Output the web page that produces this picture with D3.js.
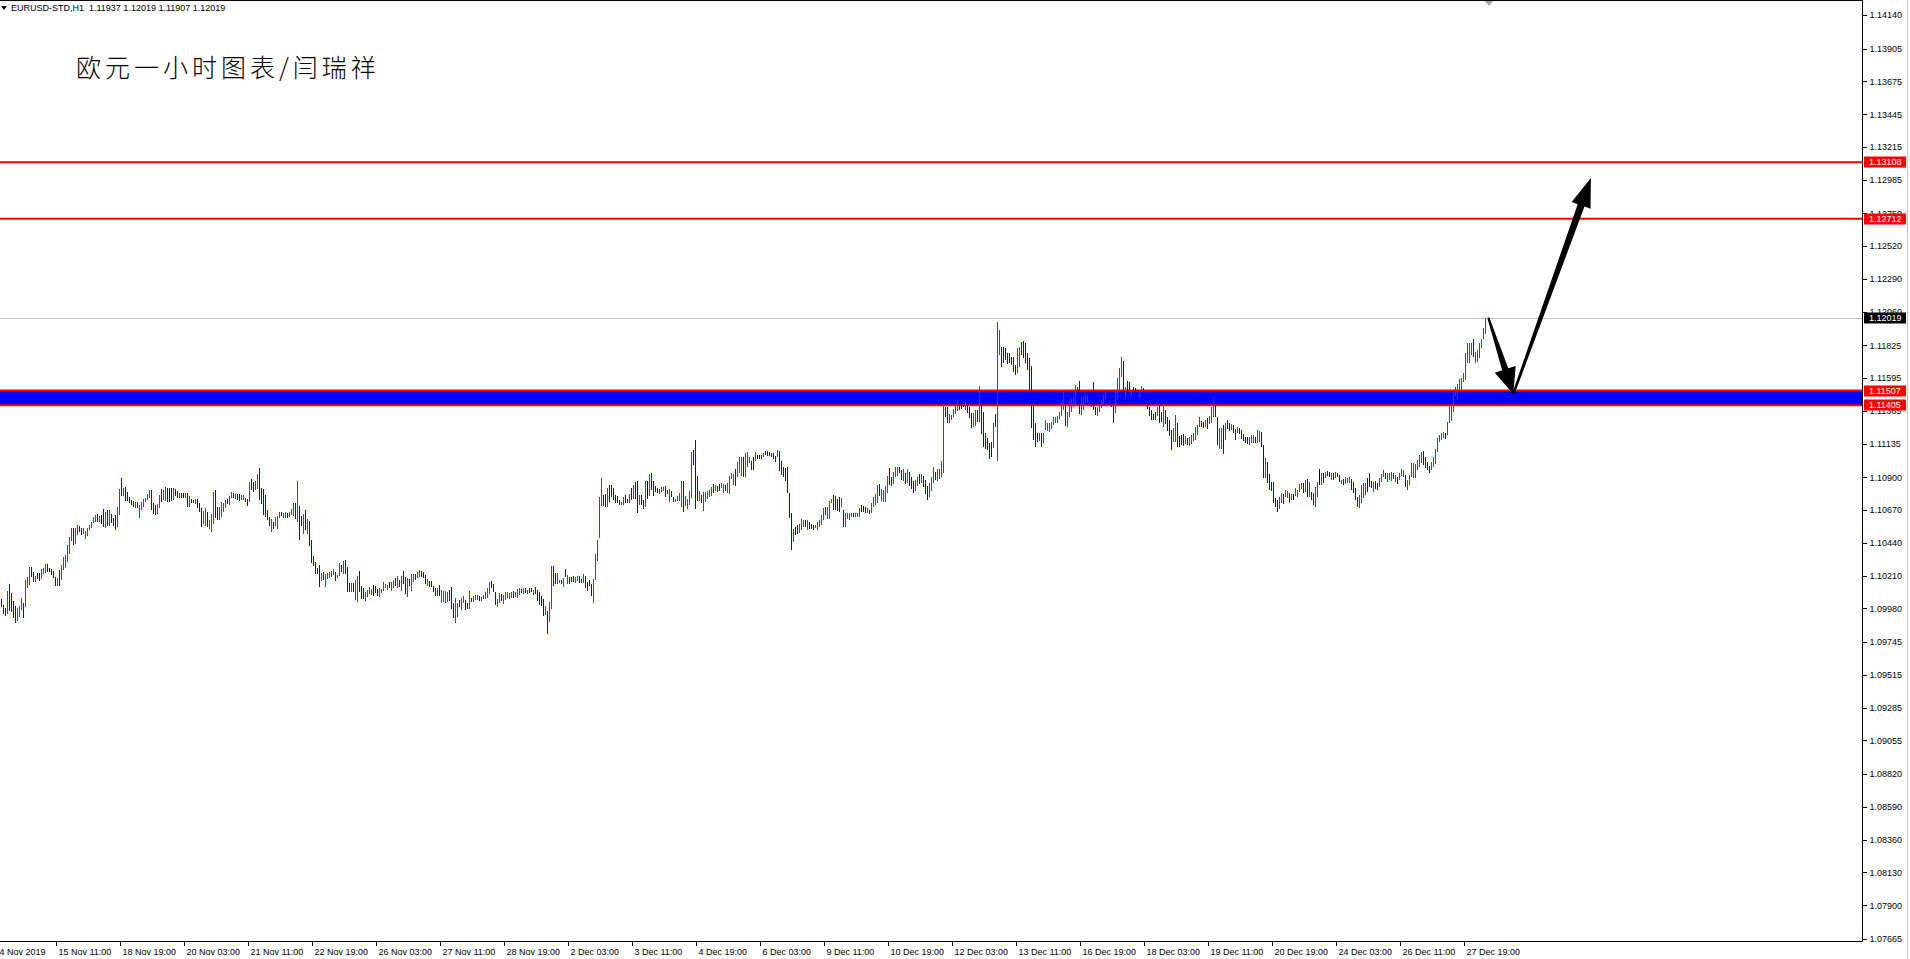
<!DOCTYPE html>
<html><head><meta charset="utf-8">
<script src="https://cdn.jsdelivr.net/npm/d3@7"></script>
<style>html,body{margin:0;padding:0;background:#fff;overflow:hidden}</style>
</head><body>
<svg id="c" width="1910" height="959" xmlns="http://www.w3.org/2000/svg"></svg>
<script>
// ---------------- DATA ----------------
const symbolHeader = "EURUSD-STD,H1  1.11937 1.12019 1.11907 1.12019";
const chartTitle = "欧元一小时图表/闫瑞祥";

// Hourly bar highs / lows in points (1 point = 0.00001)
const highPts = [
110046,110004,109981,110103,110152,110088,110032,109997,109983,110000,
110051,110018,110180,110201,110271,110271,110238,110210,110226,110226,
110257,110266,110292,110292,110264,110259,110245,110203,110191,110250,
110285,110343,110355,110425,110483,110547,110542,110547,110565,110556,
110547,110542,110523,110547,110565,110589,110621,110635,110640,110631,
110635,110677,110659,110673,110668,110640,110617,110635,110691,110818,
110895,110822,110832,110794,110764,110740,110731,110726,110729,110705,
110726,110750,110757,110785,110808,110813,110717,110705,110710,110776,
110818,110813,110834,110827,110827,110822,110827,110818,110804,110790,
110792,110790,110790,110792,110771,110748,110743,110748,110745,110719,
110684,110666,110687,110654,110603,110645,110799,110811,110694,110694,
110729,110717,110738,110750,110769,110799,110790,110785,110785,110780,
110776,110776,110752,110748,110864,110888,110869,110876,110923,110967,
110822,110818,110776,110670,110624,110607,110589,110624,110631,110659,
110654,110647,110654,110647,110654,110677,110719,110719,110874,110698,
110628,110642,110670,110605,110593,110460,110348,110308,110261,110285,
110226,110233,110219,110226,110238,110243,110257,110238,110215,110296,
110285,110313,110320,110271,110156,110161,110156,110180,110210,110243,
110138,110121,110098,110110,110133,110117,110145,110140,110117,110121,
110119,110168,110149,110145,110168,110168,110182,110191,110210,110180,
110208,110245,110198,110191,110187,110219,110224,110222,110238,110250,
110243,110233,110215,110187,110173,110173,110140,110121,110121,110145,
110110,110103,110103,110098,110110,110133,110016,110051,110021,110037,
110051,110070,110037,110016,110103,110056,110070,110074,110074,110070,
110061,110074,110098,110121,110168,110175,110152,110098,110046,110086,
110084,110074,110098,110093,110086,110093,110103,110098,110117,110121,
110117,110121,110121,110110,110121,110126,110112,110131,110112,110098,
110067,110046,110000,109962,110028,110278,110278,110226,110231,110180,
110182,110191,110257,110215,110203,110203,110208,110201,110210,110210,
110187,110222,110210,110163,110180,110152,110187,110362,110460,110764,
110894,110775,110782,110824,110845,110845,110822,110775,110768,110740,
110728,110763,110775,110749,110782,110822,110843,110866,110871,110775,
110775,110740,110871,110871,110922,110932,110876,110838,110822,110820,
110829,110834,110838,110810,110815,110806,110763,110749,110768,110792,
110873,110871,110768,110745,110803,111077,111091,111161,110908,110806,
110775,110799,110799,110803,110810,110834,110852,110845,110838,110852,
110857,110850,110845,110857,110908,110932,110922,110955,111009,111039,
111039,111039,111072,111077,111044,111016,111039,111077,111056,111058,
111058,111072,111086,111084,111074,111067,111072,111049,111091,111086,
111016,110974,110964,110974,110792,110651,110534,110553,110565,110572,
110605,110600,110600,110600,110588,110572,110565,110563,110588,110600,
110635,110682,110693,110689,110735,110745,110775,110768,110745,110759,
110754,110670,110647,110647,110647,110651,110651,110651,110647,110682,
110705,110698,110689,110682,110670,110717,110759,110782,110843,110852,
110815,110810,110838,110908,110962,110899,110939,110974,110974,110969,
110950,110955,110930,110955,110940,110900,110870,110880,110900,110920,
110925,110910,110880,110840,110860,110900,110974,110940,110955,110955,
111016,111413,111394,111390,111343,111338,111376,111399,111441,111418,
111420,111406,111418,111406,111394,111352,111348,111371,111371,111539,
111418,111359,111207,111172,111142,111149,111277,111343,111988,111932,
111815,111810,111803,111773,111768,111745,111745,111686,111803,111810,
111850,111857,111838,111768,111733,111679,111450,111277,111207,111212,
111207,111212,111301,111282,111277,111289,111319,111324,111329,111359,
111436,111511,111400,111359,111436,111446,111460,111546,111534,111577,
111460,111460,111476,111476,111470,111440,111570,111394,111394,111406,
111441,111476,111488,111488,111470,111430,111418,111511,111593,111663,
111740,111717,111534,111577,111570,111511,111530,111523,111510,111499,
111539,111523,111480,111440,111394,111371,111343,111359,111390,111399,
111359,111413,111371,111324,111301,111231,111242,111336,111282,111189,
111196,111203,111189,111172,111184,111196,111212,111249,111266,111324,
111294,111289,111301,111312,111329,111394,111446,111400,111319,111242,
111242,111266,111282,111301,111282,111273,111266,111235,111249,111242,
111231,111203,111184,111179,111184,111196,111196,111179,111231,111226,
111219,111126,111032,111009,110920,110868,110868,110752,110740,110759,
110787,110780,110810,110803,110791,110782,110782,110822,110810,110852,
110861,110857,110880,110885,110868,110798,110791,110833,110868,110955,
110932,110932,110939,110946,110939,110927,110927,110934,110932,110915,
110880,110889,110903,110892,110903,110885,110868,110822,110763,110775,
110845,110861,110857,110892,110927,110875,110868,110871,110861,110892,
110922,110950,110932,110927,110927,110939,110927,110915,110903,110927,
110955,110950,110915,110880,110915,111002,110997,110992,111020,111055,
111079,111086,111044,111009,110978,111009,111044,111095,111172,111196,
111207,111219,111212,111289,111406,111413,111488,111530,111553,111586,
111593,111628,111768,111838,111843,111843,111866,111780,111792,111843,
111866,111943,112019];

const lowPts = [
109993,109939,109930,109939,109962,109958,109911,109880,109892,109920,
109967,109916,109993,110126,110145,110201,110163,110168,110184,110173,
110189,110224,110231,110238,110238,110215,110196,110140,110140,110140,
110180,110250,110266,110308,110360,110453,110425,110434,110495,110514,
110495,110502,110467,110488,110528,110544,110577,110584,110589,110589,
110572,110554,110542,110561,110558,110577,110558,110533,110551,110635,
110771,110771,110733,110733,110717,110705,110689,110684,110687,110617,
110673,110694,110729,110743,110757,110673,110642,110635,110640,110682,
110729,110743,110733,110729,110729,110733,110738,110771,110752,110752,
110757,110757,110752,110694,110694,110717,110717,110710,110687,110654,
110554,110570,110556,110551,110535,110518,110570,110617,110600,110600,
110621,110654,110682,110710,110705,110752,110752,110748,110743,110733,
110743,110738,110724,110701,110724,110813,110794,110811,110818,110740,
110710,110635,110619,110598,110558,110514,110537,110558,110535,110612,
110626,110612,110612,110612,110621,110633,110626,110607,110584,110462,
110561,110502,110530,110500,110420,110301,110280,110219,110222,110133,
110173,110180,110133,110187,110191,110203,110215,110175,110196,110210,
110238,110224,110224,110098,110098,110098,110098,110039,110028,110098,
110046,110046,110035,110063,110079,110074,110067,110091,110070,110063,
110086,110103,110121,110110,110126,110103,110126,110140,110126,110133,
110103,110149,110079,110063,110140,110103,110168,110180,110196,110203,
110201,110191,110149,110140,110128,110133,110098,110070,110070,110067,
110021,110023,110021,110028,110032,109976,109916,109876,109923,109993,
109969,110016,109969,109976,109976,110028,110028,110039,110039,110035,
110032,110046,110046,110051,110079,110126,110093,110004,109993,110021,
110032,110014,110039,110051,110046,110056,110056,110063,110056,110074,
110086,110084,110088,110084,110088,110093,110074,110079,110032,110004,
110000,109930,109934,109801,109887,109976,110140,110154,110149,110156,
110149,110133,110201,110152,110149,110163,110163,110156,110173,110156,
110156,110161,110126,110103,110138,110070,110021,110180,110313,110476,
110698,110698,110689,110693,110728,110763,110740,110721,110717,110705,
110705,110705,110721,110717,110717,110740,110745,110745,110651,110705,
110705,110675,110693,110745,110768,110810,110768,110799,110787,110782,
110799,110806,110759,110782,110728,110759,110726,110728,110735,110731,
110693,110658,110698,110675,110705,110752,110985,110675,110735,110735,
110721,110665,110728,110745,110763,110768,110792,110806,110799,110806,
110822,110792,110806,110792,110782,110885,110845,110841,110899,110927,
110908,110899,110904,110974,110997,110950,110950,111011,111025,111025,
111025,111039,111056,111049,111049,111044,111030,111009,111044,110946,
110915,110904,110876,110792,110612,110390,110448,110495,110502,110511,
110530,110548,110548,110530,110534,110534,110530,110541,110530,110553,
110563,110600,110635,110605,110605,110717,110670,110670,110665,110658,
110693,110548,110548,110605,110600,110623,110619,110619,110619,110623,
110658,110658,110651,110651,110642,110647,110689,110703,110721,110768,
110735,110728,110728,110787,110843,110838,110852,110904,110908,110927,
110880,110870,110850,110860,110840,110820,110790,110800,110840,110850,
110860,110830,110780,110740,110760,110800,110860,110880,110870,110890,
110900,110930,111324,111277,111277,111301,111324,111343,111366,111371,
111380,111390,111371,111348,111312,111242,111254,111259,111289,111289,
111200,111109,111095,111090,111025,111044,111102,111254,111016,111756,
111675,111698,111721,111693,111698,111686,111640,111616,111628,111675,
111756,111733,111698,111651,111500,111242,111161,111114,111149,111156,
111114,111137,111231,111226,111219,111235,111266,111277,111282,111305,
111329,111371,111259,111254,111324,111359,111394,111406,111420,111343,
111336,111371,111422,111429,111410,111394,111371,111336,111329,111359,
111383,111413,111441,111453,111420,111394,111282,111348,111441,111511,
111605,111499,111453,111499,111511,111460,111488,111499,111470,111446,
111488,111488,111420,111376,111329,111301,111301,111301,111329,111277,
111289,111254,111273,111226,111189,111090,111149,111149,111109,111109,
111126,111119,111133,111126,111119,111133,111156,111161,111196,111254,
111249,111242,111249,111235,111273,111277,111319,111319,111126,111095,
111095,111062,111161,111235,111226,111231,111207,111161,111212,111203,
111165,111156,111137,111130,111126,111137,111142,111142,111142,111149,
111109,110892,110892,110857,110810,110805,110721,110688,110658,110674,
110721,110712,110763,110752,110721,110740,110740,110768,110763,110798,
110815,110787,110798,110763,110763,110740,110705,110693,110759,110845,
110845,110857,110892,110908,110903,110880,110880,110892,110903,110868,
110852,110845,110852,110857,110861,110810,110791,110740,110693,110686,
110717,110752,110775,110798,110833,110822,110798,110815,110810,110833,
110868,110899,110885,110868,110880,110875,110885,110868,110852,110880,
110908,110903,110833,110810,110845,110903,110892,110892,110950,110974,
111002,110985,110962,110950,110927,110950,110974,110992,111079,111149,
111161,111172,111165,111196,111277,111296,111359,111469,111446,111511,
111511,111570,111581,111698,111703,111756,111745,111703,111710,111733,
111803,111866,111907];

// bar direction: u = close above open (red), d = close below open (blue), n = unchanged (black)
const barDirection = [
"dddudddduu","uduuuddudd","uuudndddud","uuuuuuduud","duuuuuuudu",
"ndududdduu","dudddddudu","uuuuuddduu","duuddduddu","dnududdudd",
"duuduuuddu","uuuduududd","uuddudduud","ddddduduuu","duuduuudud",
"dududddddd","uduuuuuduu","duddduduud","dduuuunddu","uuuuduudud",
"udduduuduu","ddduddddud","uuuuddduud","uudduduuud","uuuuuddduu",
"duuuuuduuu","dududduddd","nduduudduu","dududdduud","dudddduuuu",
"uddudddddd","uuddududdu","ddunuddddu","uuddudduuu","uduuuudddu",
"duuuuududd","uuduuuuduu","uduuuddund","duddddddud","dddddduddu",
"uududdduuu","uuduuudddd","uduuuuduuu","ddduduuuud","uuuudduuud",
"dududdduud","uddduuuduu","uudduuuuud","dduddduudu","dddddduduu",
"dddddddduu","dddddddddu","duuuuuuuuu","uuduuuuudd","uuuudddduu",
"uuunddduuu","ududdudddu","udddddddud","dudddduudd","dduduuuuuu",
"dduduuuddu","ududduddud","dddduuuduu","dduddddddu","uduudunuuu",
"udududduun","ududdududd","uduuuddddu","uuuddduddu","uuduuududu",
"uuduuuuuuu","udddduuuuu","uuduuuuuuu","uuuuuuduuu","uuu"].join("");

const priceTicks = [1.14140,1.13905,1.13675,1.13445,1.13215,1.12985,1.12750,1.12520,1.12290,
  1.12060,1.11825,1.11595,1.11365,1.11135,1.10900,1.10670,1.10440,1.10210,1.09980,1.09745,
  1.09515,1.09285,1.09055,1.08820,1.08590,1.08360,1.08130,1.07900,1.07665];

const timeLabels = ["14 Nov 2019","15 Nov 11:00","18 Nov 19:00","20 Nov 03:00","21 Nov 11:00",
  "22 Nov 19:00","26 Nov 03:00","27 Nov 11:00","28 Nov 19:00","2 Dec 03:00","3 Dec 11:00",
  "4 Dec 19:00","6 Dec 03:00","9 Dec 11:00","10 Dec 19:00","12 Dec 03:00","13 Dec 11:00",
  "16 Dec 19:00","18 Dec 03:00","19 Dec 11:00","20 Dec 19:00","24 Dec 03:00","26 Dec 11:00",
  "27 Dec 19:00"];
// bar index each time label marks
const timeLabelBars = [-5,27,59,91,123,155,187,219,251,283,315,347,379,411,443,475,507,539,571,603,635,667,699,731];

const resistanceLevels = [1.13108, 1.12712];
const supportZone = [1.11405, 1.11507];
const lastPrice = 1.12019;
// drawn arrows: [bar index, price] start -> tip
const arrowDown = [[743.4, 1.12019], [755.9, 1.11483]];
const arrowUp = [[755.9, 1.11483], [794.7, 1.12997]];

// ---------------- CHART ----------------
const axisX = 1862, axisY = 941;
const svg = d3.select("#c");
const font = "'Liberation Sans', Arial, sans-serif";

const bars = highPts.map((h, i) => ({ i, high: h / 1e5, low: lowPts[i] / 1e5, dir: barDirection[i] || "n" }));

const x = d3.scaleLinear().domain([0, 742]).range([1.5, 1485.5]);
const y = d3.scaleLinear().domain([1.07665, 1.14140]).range([938.7, 15]);

// support zone (background)
svg.append("rect")
  .attr("x", 0).attr("width", axisX)
  .attr("y", y(supportZone[1])).attr("height", y(supportZone[0]) - y(supportZone[1]))
  .attr("fill", "#0000ff");

// last price line
svg.append("line").attr("x1", 0).attr("x2", axisX)
  .attr("y1", Math.round(y(lastPrice)) + 0.5).attr("y2", Math.round(y(lastPrice)) + 0.5)
  .attr("stroke", "#c0c0c0").attr("stroke-width", 1);

// horizontal red levels
[...resistanceLevels, ...supportZone].forEach(v => {
  svg.append("line").attr("x1", 0).attr("x2", axisX)
    .attr("y1", y(v)).attr("y2", y(v))
    .attr("stroke", "#ff0000").attr("stroke-width", 2);
});

// bars
const barColor = { u: "#ff0000", d: "#0000ff", n: "#000000" };
svg.append("g").attr("shape-rendering", "crispEdges")
  .selectAll("rect").data(bars).join("rect")
  .attr("x", d => x(d.i) - 0.5).attr("width", 1)
  .attr("y", d => y(d.high))
  .attr("height", d => Math.max(1, y(d.low) - y(d.high)))
  .attr("fill", d => barColor[d.dir]);

// arrows
function arrow(pts, w0, w1, headLen, headHalf) {
  const x0 = x(pts[0][0]), y0 = y(pts[0][1]), x1 = x(pts[1][0]), y1 = y(pts[1][1]);
  const dx = x1 - x0, dy = y1 - y0, L = Math.hypot(dx, dy);
  const ux = dx / L, uy = dy / L, nx = -uy, ny = ux;
  const bx = x1 - ux * headLen, by = y1 - uy * headLen;
  const p = [
    [x0 + nx * w0, y0 + ny * w0], [bx + nx * w1, by + ny * w1], [bx + nx * headHalf, by + ny * headHalf],
    [x1, y1],
    [bx - nx * headHalf, by - ny * headHalf], [bx - nx * w1, by - ny * w1], [x0 - nx * w0, y0 - ny * w0]
  ];
  svg.append("polygon").attr("points", p.map(q => q.join(",")).join(" ")).attr("fill", "#000");
}
arrow(arrowDown, 1, 3.2, 26, 11);
arrow(arrowUp, 1.2, 3.6, 29, 10);

// frame
svg.append("line").attr("x1", 0).attr("x2", axisX).attr("y1", 0.5).attr("y2", 0.5).attr("stroke", "#000");
svg.append("line").attr("x1", axisX + 0.5).attr("x2", axisX + 0.5).attr("y1", 0).attr("y2", axisY + 0.5).attr("stroke", "#000");
svg.append("line").attr("x1", 0).attr("x2", axisX + 0.5).attr("y1", axisY + 0.5).attr("y2", axisY + 0.5).attr("stroke", "#000");
svg.append("line").attr("x1", 1907.5).attr("x2", 1907.5).attr("y1", 0).attr("y2", 959).attr("stroke", "#c8c8c8");

// price axis
const yAxis = d3.axisRight(y).tickValues(priceTicks).tickSize(4).tickPadding(3).tickFormat(d => d.toFixed(5));
const gy = svg.append("g").attr("transform", `translate(${axisX + 0.5},0)`).call(yAxis);
gy.select(".domain").remove();
gy.selectAll("line").attr("stroke", "#000").attr("shape-rendering", "crispEdges");
gy.selectAll("text").attr("font-family", font).attr("font-size", 9).attr("fill", "#000");

// time axis
const xAxis = d3.axisBottom(x).tickValues(timeLabelBars).tickSize(4).tickFormat((d, i) => timeLabels[i]);
const gx = svg.append("g").attr("transform", `translate(0,${axisY + 0.5})`).call(xAxis);
gx.select(".domain").remove();
gx.selectAll("line").attr("stroke", "#000").attr("shape-rendering", "crispEdges");
gx.selectAll("text").attr("font-family", font).attr("font-size", 9).attr("fill", "#000")
  .attr("text-anchor", "start").attr("x", 2.5).attr("y", 7).attr("dy", "0.71em");

// price markers on axis
const markers = [
  { v: resistanceLevels[0], bg: "#ff0000" }, { v: resistanceLevels[1], bg: "#ff0000" },
  { v: lastPrice, bg: "#000000" },
  { v: supportZone[1], bg: "#ff0000" }, { v: supportZone[0], bg: "#ff0000" }
];
const mg = svg.append("g");
markers.forEach(m => {
  const yy = Math.round(y(m.v));
  mg.append("rect").attr("x", axisX + 2).attr("y", yy - 5.5).attr("width", 42).attr("height", 11).attr("fill", m.bg);
  mg.append("text").attr("x", axisX + 7).attr("y", yy).attr("dy", "0.35em")
    .attr("font-family", font).attr("font-size", 9).attr("fill", "#fff").text(m.v.toFixed(5));
});

// header
svg.append("polygon").attr("points", "1,6 7,6 4,10").attr("fill", "#000");
svg.append("text").attr("x", 11).attr("y", 8).attr("dy", "0.35em")
  .attr("font-family", font).attr("font-size", 9).attr("fill", "#000")
  .attr("xml:space", "preserve").style("white-space", "pre").text(symbolHeader);

// shift marker at top
svg.append("polygon").attr("points", `${x(742) - 1},1 ${x(742) + 8},1 ${x(742) + 3.5},6`).attr("fill", "#a8a8a8");

// title
svg.append("text").attr("x", 76).attr("y", 66).attr("dominant-baseline", "central")
  .attr("font-family", "'Noto Sans CJK SC', sans-serif").attr("font-size", 25).attr("font-weight", 300)
  .attr("letter-spacing", 4).attr("fill", "#000").text(chartTitle);
</script>
</body></html>
